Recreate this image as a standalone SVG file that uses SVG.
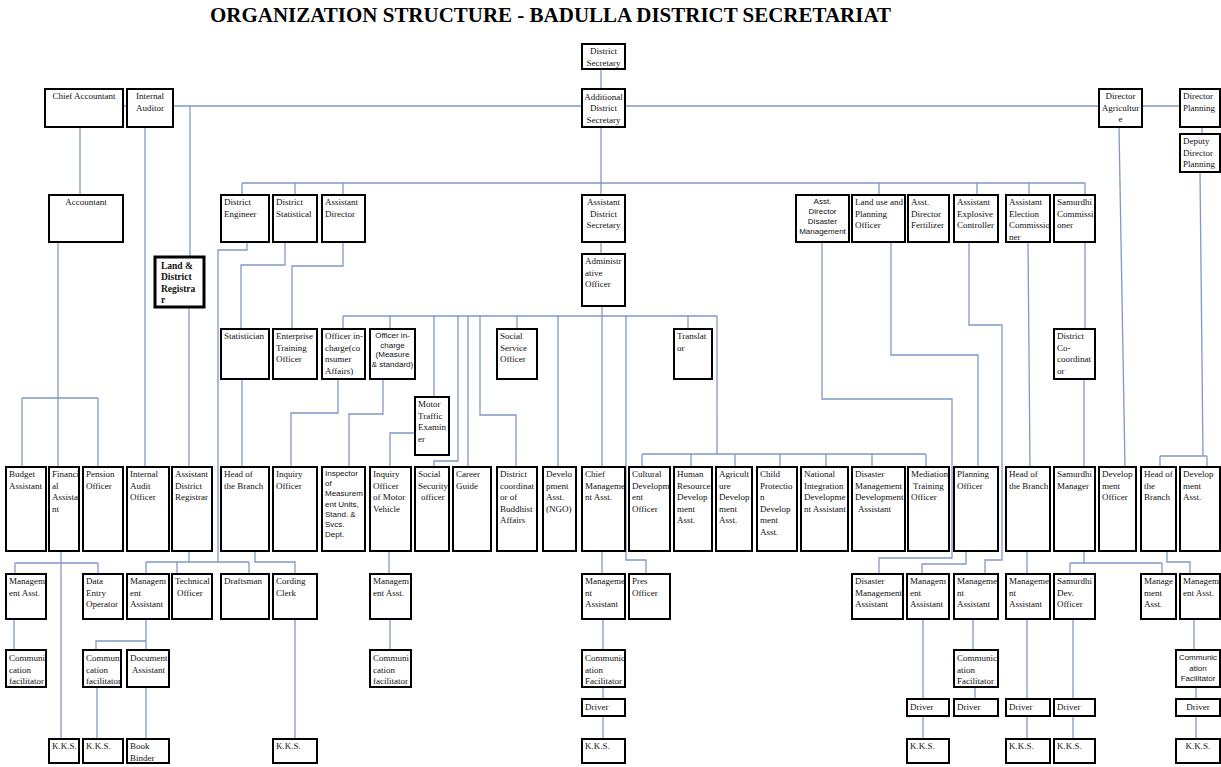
<svg xmlns="http://www.w3.org/2000/svg" width="1221" height="767" viewBox="0 0 1221 767">
<style>
.b{fill:#fff;stroke:#000;stroke-width:2}
.bb{fill:#fff;stroke:#000;stroke-width:3}
.t{font-family:"Liberation Serif","Times New Roman",serif;font-size:9px;fill:#111}
.s{font-family:"Liberation Sans",Arial,sans-serif;font-size:8px;fill:#111}
.m{text-anchor:middle}
.k{font-weight:bold;font-size:9.5px}
.title{font-family:"Liberation Serif","Times New Roman",serif;font-weight:bold;font-size:22px;fill:#000}
#links path{fill:none;stroke:#8099c8;stroke-width:1.3}
</style>
<rect width="1221" height="767" fill="#fff"/>
<text class="title" x="210" y="22" textLength="681" lengthAdjust="spacingAndGlyphs">ORGANIZATION STRUCTURE - BADULLA DISTRICT SECRETARIAT</text>
<g id="links">
<path d="M601,69V89"/>
<path d="M123,106H127M173,106H582M625,106H1099M1142,106H1180"/>
<path d="M190,106V257"/>
<path d="M80,127V195"/>
<path d="M145,127V467"/>
<path d="M58,242V467M22,398H98M22,398V467M98,398V467"/>
<path d="M61,551V739M15,563H98M15,563V574M98,563V574"/>
<path d="M189,307V467"/>
<path d="M189,551V562M146,562H249M146,562V574M177,562V574M249,562V574"/>
<path d="M247,242V250H218V562"/>
<path d="M285,242V265H241V329"/>
<path d="M242,379V467"/>
<path d="M255,551V562H295V574M295,619V739"/>
<path d="M343,242V266H292V329"/>
<path d="M242,183H1085M242,183V195M295,183V195M343,183V195M879,183V195M977,183V195M1029,183V195M1085,183V195M601,127V195"/>
<path d="M601,242V254"/>
<path d="M602,306V467M343,316H717M343,316V329M390,316V329M434,316V397M458,316V461H434V467M468,316V467M480,316V415H516V467M517,316V329M558,316V467M626,316V560H646V574M688,316V329M717,316V454M642,454H926M642,454V467M691,454V467M735,454V467M780,454V467M826,454V467M872,454V467M926,454V467"/>
<path d="M822,242V399H952V558H879V574"/>
<path d="M891,242V355H978V467"/>
<path d="M966,551V564H922V574"/>
<path d="M969,242V325H1002V560H985V574"/>
<path d="M973,619V650M975,687V699"/>
<path d="M1028,242L1030,467M1027,551V574M1027,619V699M1027,716V739"/>
<path d="M1085,242V329M1084,379V467M1084,551V563M1070,563H1162M1070,563V574M1162,563V574M1073,619V699M1073,716V739"/>
<path d="M1119,127L1125,467"/>
<path d="M1202,127V134M1200,172L1203,456M1160,456H1207M1160,456V467M1207,456V467"/>
<path d="M1167,551V562H1190V574M1194,619V650M1196,687V699M1196,716V739"/>
<path d="M338,379V413H291V467"/>
<path d="M383,379V414H349V467"/>
<path d="M415,433H390V467"/>
<path d="M389,551V574M390,619V650"/>
<path d="M14,619V650"/>
<path d="M146,619V641H96V650M146,641V650M97,687V739M146,687V739"/>
<path d="M602,551V574M603,619V650M603,687V699M603,716V739"/>
<path d="M923,619V699M923,716V739"/>
</g>
<g id="n-district-secretary"><rect class="b" x="582" y="44" width="43" height="25"/><text class="t m" y="54"><tspan x="603.5">District</tspan><tspan x="603.5" dy="11.5">Secretary</tspan></text></g>
<g id="n-chief-accountant"><rect class="b" x="45" y="89" width="78" height="38"/><text class="t m" x="84" y="99">Chief Accountant</text></g>
<g id="n-internal-auditor"><rect class="b" x="127" y="89" width="46" height="38"/><text class="t m" y="99"><tspan x="150">Internal</tspan><tspan x="150" dy="11.5">Auditor</tspan></text></g>
<g id="n-additional-ds"><rect class="b" x="582" y="89" width="43" height="38"/><text class="t m" y="99.5"><tspan x="603.5">Additional</tspan><tspan x="603.5" dy="11.5">District</tspan><tspan x="603.5" dy="11.5">Secretary</tspan></text></g>
<g id="n-director-agriculture"><rect class="b" x="1099" y="89" width="43" height="38"/><text class="t m" y="99"><tspan x="1120.5">Director</tspan><tspan x="1120.5" dy="11.5">Agricultur</tspan><tspan x="1120.5" dy="11.5">e</tspan></text></g>
<g id="n-director-planning"><rect class="b" x="1180" y="89" width="40" height="38"/><text class="t" y="99"><tspan x="1183">Director</tspan><tspan x="1183" dy="11.5">Planning</tspan></text></g>
<g id="n-deputy-director-planning"><rect class="b" x="1180" y="134" width="40" height="38"/><text class="t" y="144"><tspan x="1183">Deputy</tspan><tspan x="1183" dy="11.5">Director</tspan><tspan x="1183" dy="11.5">Planning</tspan></text></g>
<g id="n-accountant"><rect class="b" x="49" y="195" width="74" height="47"/><text class="t m" x="86" y="205">Accountant</text></g>
<g id="n-district-engineer"><rect class="b" x="221" y="195" width="48" height="47"/><text class="t" y="205"><tspan x="224">District</tspan><tspan x="224" dy="11.5">Engineer</tspan></text></g>
<g id="n-district-statistical"><rect class="b" x="273" y="195" width="44" height="47"/><text class="t" y="205"><tspan x="276">District</tspan><tspan x="276" dy="11.5">Statistical</tspan></text></g>
<g id="n-assistant-director"><rect class="b" x="322" y="195" width="43" height="47"/><text class="t" y="205"><tspan x="325">Assistant</tspan><tspan x="325" dy="11.5">Director</tspan></text></g>
<g id="n-assistant-ds"><rect class="b" x="582" y="195" width="43" height="47"/><text class="t m" y="205"><tspan x="603.5">Assistant</tspan><tspan x="603.5" dy="11.5">District</tspan><tspan x="603.5" dy="11.5">Secretary</tspan></text></g>
<g id="n-asst-director-dm"><rect class="b" x="796" y="195" width="53" height="47"/><text class="s m" y="204"><tspan x="822.5">Asst.</tspan><tspan x="822.5" dy="10">Director</tspan><tspan x="822.5" dy="10">Disaster</tspan><tspan x="822.5" dy="10">Management</tspan></text></g>
<g id="n-land-use-planning"><rect class="b" x="852" y="195" width="53" height="47"/><text class="t" y="205"><tspan x="855">Land use and</tspan><tspan x="855" dy="11.5">Planning</tspan><tspan x="855" dy="11.5">Officer</tspan></text></g>
<g id="n-asst-director-fertilizer"><rect class="b" x="908" y="195" width="41" height="47"/><text class="t" y="205"><tspan x="911">Asst.</tspan><tspan x="911" dy="11.5">Director</tspan><tspan x="911" dy="11.5">Fertilizer</tspan></text></g>
<g id="n-asst-explosive-controller"><rect class="b" x="954" y="195" width="44" height="47"/><text class="t" y="205"><tspan x="957">Assistant</tspan><tspan x="957" dy="11.5">Explosive</tspan><tspan x="957" dy="11.5">Controller</tspan></text></g>
<g id="n-asst-election-commissioner"><rect class="b" x="1006" y="195" width="44" height="47"/><text class="t" y="205"><tspan x="1009">Assistant</tspan><tspan x="1009" dy="11.5">Election</tspan><tspan x="1009" dy="11.5">Commissio</tspan><tspan x="1009" dy="11.5">ner</tspan></text></g>
<g id="n-samurdhi-commissioner"><rect class="b" x="1054" y="195" width="41" height="47"/><text class="t" y="205"><tspan x="1057">Samurdhi</tspan><tspan x="1057" dy="11.5">Commissi</tspan><tspan x="1057" dy="11.5">oner</tspan></text></g>
<g id="n-land-district-registrar"><rect class="bb" x="155" y="257" width="49" height="50"/><text class="t k" y="269"><tspan x="161">Land &amp;</tspan><tspan x="161" dy="11.3">District</tspan><tspan x="161" dy="11.3">Registra</tspan><tspan x="161" dy="11.3">r</tspan></text></g>
<g id="n-administrative-officer"><rect class="b" x="582" y="254" width="43" height="52"/><text class="t" y="264"><tspan x="585">Administr</tspan><tspan x="585" dy="11.5">ative</tspan><tspan x="585" dy="11.5">Officer</tspan></text></g>
<g id="n-statistician"><rect class="b" x="221" y="329" width="48" height="50"/><text class="t" x="224" y="339">Statistician</text></g>
<g id="n-enterprise-training-officer"><rect class="b" x="273" y="329" width="44" height="50"/><text class="t" y="339"><tspan x="276">Enterprise</tspan><tspan x="276" dy="11.5">Training</tspan><tspan x="276" dy="11.5">Officer</tspan></text></g>
<g id="n-oic-consumer"><rect class="b" x="322" y="329" width="43" height="50"/><text class="t" y="339"><tspan x="325">Officer in-</tspan><tspan x="325" dy="11.5">charge(co</tspan><tspan x="325" dy="11.5">nsumer</tspan><tspan x="325" dy="11.5">Affairs)</tspan></text></g>
<g id="n-oic-measure"><rect class="b" x="370" y="329" width="45" height="50"/><text class="s m" y="338"><tspan x="392.5">Officer in-</tspan><tspan x="392.5" dy="9.6">charge</tspan><tspan x="392.5" dy="9.6">(Measure</tspan><tspan x="392.5" dy="9.6">&amp; standard)</tspan></text></g>
<g id="n-social-service-officer"><rect class="b" x="497" y="329" width="40" height="50"/><text class="t" y="339"><tspan x="500">Social</tspan><tspan x="500" dy="11.5">Service</tspan><tspan x="500" dy="11.5">Officer</tspan></text></g>
<g id="n-translator"><rect class="b" x="674" y="329" width="38" height="50"/><text class="t" y="339"><tspan x="677">Translat</tspan><tspan x="677" dy="11.5">or</tspan></text></g>
<g id="n-district-cocoordinator"><rect class="b" x="1054" y="329" width="41" height="50"/><text class="t" y="339"><tspan x="1057">District</tspan><tspan x="1057" dy="11.5">Co-</tspan><tspan x="1057" dy="11.5">coordinat</tspan><tspan x="1057" dy="11.5">or</tspan></text></g>
<g id="n-motor-traffic-examiner"><rect class="b" x="415" y="397" width="34" height="58"/><text class="t" y="407"><tspan x="418">Motor</tspan><tspan x="418" dy="11.5">Traffic</tspan><tspan x="418" dy="11.5">Examin</tspan><tspan x="418" dy="11.5">er</tspan></text></g>
<g id="n-budget-assistant"><rect class="b" x="6" y="467" width="40" height="84"/><text class="t" y="477"><tspan x="9">Budget</tspan><tspan x="9" dy="11.5">Assistant</tspan></text></g>
<g id="n-financial-assistant"><rect class="b" x="49" y="467" width="30" height="84"/><text class="t" y="477"><tspan x="52">Financi</tspan><tspan x="52" dy="11.5">al</tspan><tspan x="52" dy="11.5">Assista</tspan><tspan x="52" dy="11.5">nt</tspan></text></g>
<g id="n-pension-officer"><rect class="b" x="83" y="467" width="40" height="84"/><text class="t" y="477"><tspan x="86">Pension</tspan><tspan x="86" dy="11.5">Officer</tspan></text></g>
<g id="n-internal-audit-officer"><rect class="b" x="127" y="467" width="42" height="84"/><text class="t" y="477"><tspan x="130">Internal</tspan><tspan x="130" dy="11.5">Audit</tspan><tspan x="130" dy="11.5">Officer</tspan></text></g>
<g id="n-asst-district-registrar"><rect class="b" x="172" y="467" width="40" height="84"/><text class="t" y="477"><tspan x="175">Assistant</tspan><tspan x="175" dy="11.5">District</tspan><tspan x="175" dy="11.5">Registrar</tspan></text></g>
<g id="n-head-branch-1"><rect class="b" x="221" y="467" width="48" height="84"/><text class="t" y="477"><tspan x="224">Head of</tspan><tspan x="224" dy="11.5">the Branch</tspan></text></g>
<g id="n-inquiry-officer"><rect class="b" x="273" y="467" width="44" height="84"/><text class="t" y="477"><tspan x="276">Inquiry</tspan><tspan x="276" dy="11.5">Officer</tspan></text></g>
<g id="n-inspector"><rect class="b" x="322" y="467" width="43" height="84"/><text class="s" y="476"><tspan x="325">Inspector</tspan><tspan x="325" dy="10.2">of</tspan><tspan x="325" dy="10.2">Measurem</tspan><tspan x="325" dy="10.2">ent Units,</tspan><tspan x="325" dy="10.2">Stand. &amp;</tspan><tspan x="325" dy="10.2">Svcs.</tspan><tspan x="325" dy="10.2">Dept.</tspan></text></g>
<g id="n-inquiry-motor-vehicle"><rect class="b" x="370" y="467" width="41" height="84"/><text class="t" y="477"><tspan x="373">Inquiry</tspan><tspan x="373" dy="11.5">Officer</tspan><tspan x="373" dy="11.5">of Motor</tspan><tspan x="373" dy="11.5">Vehicle</tspan></text></g>
<g id="n-social-security-officer"><rect class="b" x="415" y="467" width="34" height="84"/><text class="t" y="477"><tspan x="418">Social</tspan><tspan x="418" dy="11.5">Security</tspan><tspan x="421" dy="11.5">officer</tspan></text></g>
<g id="n-career-guide"><rect class="b" x="453" y="467" width="38" height="84"/><text class="t" y="477"><tspan x="456">Career</tspan><tspan x="456" dy="11.5">Guide</tspan></text></g>
<g id="n-buddhist-affairs"><rect class="b" x="497" y="467" width="40" height="84"/><text class="t" y="477"><tspan x="500">District</tspan><tspan x="500" dy="11.5">coordinat</tspan><tspan x="500" dy="11.5">or of</tspan><tspan x="500" dy="11.5">Buddhist</tspan><tspan x="500" dy="11.5">Affairs</tspan></text></g>
<g id="n-dev-asst-ngo"><rect class="b" x="543" y="467" width="33" height="84"/><text class="t" y="477"><tspan x="546">Develo</tspan><tspan x="546" dy="11.5">pment</tspan><tspan x="546" dy="11.5">Asst.</tspan><tspan x="546" dy="11.5">(NGO)</tspan></text></g>
<g id="n-chief-mgmt-asst"><rect class="b" x="582" y="467" width="43" height="84"/><text class="t" y="477"><tspan x="585">Chief</tspan><tspan x="585" dy="11.5">Manageme</tspan><tspan x="585" dy="11.5">nt Asst.</tspan></text></g>
<g id="n-cultural-dev-officer"><rect class="b" x="629" y="467" width="41" height="84"/><text class="t" y="477"><tspan x="632">Cultural</tspan><tspan x="632" dy="11.5">Developm</tspan><tspan x="632" dy="11.5">ent</tspan><tspan x="632" dy="11.5">Officer</tspan></text></g>
<g id="n-hr-dev-asst"><rect class="b" x="674" y="467" width="38" height="84"/><text class="t" y="477"><tspan x="677">Human</tspan><tspan x="677" dy="11.5">Resource</tspan><tspan x="677" dy="11.5">Develop</tspan><tspan x="677" dy="11.5">ment</tspan><tspan x="677" dy="11.5">Asst.</tspan></text></g>
<g id="n-agri-dev-asst"><rect class="b" x="716" y="467" width="36" height="84"/><text class="t" y="477"><tspan x="719">Agricult</tspan><tspan x="719" dy="11.5">ure</tspan><tspan x="719" dy="11.5">Develop</tspan><tspan x="719" dy="11.5">ment</tspan><tspan x="719" dy="11.5">Asst.</tspan></text></g>
<g id="n-child-protection"><rect class="b" x="757" y="467" width="40" height="84"/><text class="t" y="477"><tspan x="760">Child</tspan><tspan x="760" dy="11.5">Protectio</tspan><tspan x="760" dy="11.5">n</tspan><tspan x="760" dy="11.5">Develop</tspan><tspan x="760" dy="11.5">ment</tspan><tspan x="760" dy="11.5">Asst.</tspan></text></g>
<g id="n-national-integration"><rect class="b" x="801" y="467" width="47" height="84"/><text class="t" y="477"><tspan x="804">National</tspan><tspan x="804" dy="11.5">Integration</tspan><tspan x="804" dy="11.5">Developme</tspan><tspan x="804" dy="11.5">nt Assistant</tspan></text></g>
<g id="n-dm-dev-asst"><rect class="b" x="852" y="467" width="53" height="84"/><text class="t" y="477"><tspan x="855">Disaster</tspan><tspan x="855" dy="11.5">Management</tspan><tspan x="855" dy="11.5">Development</tspan><tspan x="858" dy="11.5">Assistant</tspan></text></g>
<g id="n-mediation-training"><rect class="b" x="908" y="467" width="41" height="84"/><text class="t" y="477"><tspan x="911">Mediation</tspan><tspan x="913" dy="11.5">Training</tspan><tspan x="911" dy="11.5">Officer</tspan></text></g>
<g id="n-planning-officer"><rect class="b" x="954" y="467" width="44" height="84"/><text class="t" y="477"><tspan x="957">Planning</tspan><tspan x="957" dy="11.5">Officer</tspan></text></g>
<g id="n-head-branch-2"><rect class="b" x="1006" y="467" width="44" height="84"/><text class="t" y="477"><tspan x="1009">Head of</tspan><tspan x="1009" dy="11.5">the Branch</tspan></text></g>
<g id="n-samurdhi-manager"><rect class="b" x="1054" y="467" width="41" height="84"/><text class="t" y="477"><tspan x="1057">Samurdhi</tspan><tspan x="1057" dy="11.5">Manager</tspan></text></g>
<g id="n-development-officer"><rect class="b" x="1099" y="467" width="37" height="84"/><text class="t" y="477"><tspan x="1102">Develop</tspan><tspan x="1102" dy="11.5">ment</tspan><tspan x="1102" dy="11.5">Officer</tspan></text></g>
<g id="n-head-branch-3"><rect class="b" x="1141" y="467" width="35" height="84"/><text class="t" y="477"><tspan x="1144">Head of</tspan><tspan x="1144" dy="11.5">the</tspan><tspan x="1144" dy="11.5">Branch</tspan></text></g>
<g id="n-development-asst"><rect class="b" x="1180" y="467" width="40" height="84"/><text class="t" y="477"><tspan x="1183">Develop</tspan><tspan x="1183" dy="11.5">ment</tspan><tspan x="1183" dy="11.5">Asst.</tspan></text></g>
<g id="n-mgmt-asst-1"><rect class="b" x="6" y="574" width="40" height="45"/><text class="t" y="584"><tspan x="9">Managem</tspan><tspan x="9" dy="11.5">ent Asst.</tspan></text></g>
<g id="n-data-entry-operator"><rect class="b" x="83" y="574" width="40" height="45"/><text class="t" y="584"><tspan x="86">Data</tspan><tspan x="86" dy="11.5">Entry</tspan><tspan x="86" dy="11.5">Operator</tspan></text></g>
<g id="n-mgmt-asst-2"><rect class="b" x="127" y="574" width="42" height="45"/><text class="t" y="584"><tspan x="130">Managem</tspan><tspan x="130" dy="11.5">ent</tspan><tspan x="130" dy="11.5">Assistant</tspan></text></g>
<g id="n-technical-officer"><rect class="b" x="172" y="574" width="40" height="45"/><text class="t" y="584"><tspan x="175">Technical</tspan><tspan x="177" dy="11.5">Officer</tspan></text></g>
<g id="n-draftsman"><rect class="b" x="221" y="574" width="48" height="45"/><text class="t" x="224" y="584">Draftsman</text></g>
<g id="n-cording-clerk"><rect class="b" x="273" y="574" width="44" height="45"/><text class="t" y="584"><tspan x="276">Cording</tspan><tspan x="276" dy="11.5">Clerk</tspan></text></g>
<g id="n-mgmt-asst-3"><rect class="b" x="370" y="574" width="41" height="45"/><text class="t" y="584"><tspan x="373">Managem</tspan><tspan x="373" dy="11.5">ent Asst.</tspan></text></g>
<g id="n-mgmt-asst-4"><rect class="b" x="582" y="574" width="43" height="45"/><text class="t" y="584"><tspan x="585">Manageme</tspan><tspan x="585" dy="11.5">nt</tspan><tspan x="585" dy="11.5">Assistant</tspan></text></g>
<g id="n-pres-officer"><rect class="b" x="629" y="574" width="41" height="45"/><text class="t" y="584"><tspan x="632">Pres</tspan><tspan x="632" dy="11.5">Officer</tspan></text></g>
<g id="n-dm-assistant"><rect class="b" x="852" y="574" width="51" height="45"/><text class="t" y="584"><tspan x="855">Disaster</tspan><tspan x="855" dy="11.5">Management</tspan><tspan x="855" dy="11.5">Assistant</tspan></text></g>
<g id="n-mgmt-asst-5"><rect class="b" x="907" y="574" width="42" height="45"/><text class="t" y="584"><tspan x="910">Managem</tspan><tspan x="910" dy="11.5">ent</tspan><tspan x="910" dy="11.5">Assistant</tspan></text></g>
<g id="n-mgmt-asst-6"><rect class="b" x="954" y="574" width="44" height="45"/><text class="t" y="584"><tspan x="957">Manageme</tspan><tspan x="957" dy="11.5">nt</tspan><tspan x="957" dy="11.5">Assistant</tspan></text></g>
<g id="n-mgmt-asst-7"><rect class="b" x="1006" y="574" width="44" height="45"/><text class="t" y="584"><tspan x="1009">Manageme</tspan><tspan x="1009" dy="11.5">nt</tspan><tspan x="1009" dy="11.5">Assistant</tspan></text></g>
<g id="n-samurdhi-dev-officer"><rect class="b" x="1054" y="574" width="41" height="45"/><text class="t" y="584"><tspan x="1057">Samurdhi</tspan><tspan x="1057" dy="11.5">Dev.</tspan><tspan x="1057" dy="11.5">Officer</tspan></text></g>
<g id="n-mgmt-asst-8"><rect class="b" x="1141" y="574" width="35" height="45"/><text class="t" y="584"><tspan x="1144">Manage</tspan><tspan x="1144" dy="11.5">ment</tspan><tspan x="1144" dy="11.5">Asst.</tspan></text></g>
<g id="n-mgmt-asst-9"><rect class="b" x="1180" y="574" width="40" height="45"/><text class="t" y="584"><tspan x="1183">Managem</tspan><tspan x="1183" dy="11.5">ent Asst.</tspan></text></g>
<g id="n-comm-fac-1"><rect class="b" x="6" y="650" width="40" height="37"/><text class="t" y="661"><tspan x="9">Communi</tspan><tspan x="9" dy="11.5">cation</tspan><tspan x="9" dy="11.5">facilitator</tspan></text></g>
<g id="n-comm-fac-2"><rect class="b" x="83" y="650" width="38" height="37"/><text class="t" y="661"><tspan x="86">Communi</tspan><tspan x="86" dy="11.5">cation</tspan><tspan x="86" dy="11.5">facilitator</tspan></text></g>
<g id="n-document-assistant"><rect class="b" x="127" y="650" width="42" height="37"/><text class="t" y="661"><tspan x="130">Document</tspan><tspan x="132" dy="11.5">Assistant</tspan></text></g>
<g id="n-comm-fac-3"><rect class="b" x="370" y="650" width="41" height="37"/><text class="t" y="661"><tspan x="373">Communi</tspan><tspan x="373" dy="11.5">cation</tspan><tspan x="373" dy="11.5">facilitator</tspan></text></g>
<g id="n-comm-fac-4"><rect class="b" x="582" y="650" width="43" height="37"/><text class="t" y="661"><tspan x="585">Communic</tspan><tspan x="585" dy="11.5">ation</tspan><tspan x="585" dy="11.5">Facilitator</tspan></text></g>
<g id="n-comm-fac-5"><rect class="b" x="954" y="650" width="44" height="37"/><text class="t" y="661"><tspan x="957">Communic</tspan><tspan x="957" dy="11.5">ation</tspan><tspan x="957" dy="11.5">Facilitator</tspan></text></g>
<g id="n-comm-fac-6"><rect class="b" x="1176" y="650" width="44" height="37"/><text class="s m" y="660"><tspan x="1198">Communic</tspan><tspan x="1198" dy="10.5">ation</tspan><tspan x="1198" dy="10.5">Facilitator</tspan></text></g>
<g id="n-driver-1"><rect class="b" x="582" y="699" width="43" height="17"/><text class="t" x="585" y="710">Driver</text></g>
<g id="n-driver-2"><rect class="b" x="907" y="699" width="42" height="17"/><text class="t" x="910" y="710">Driver</text></g>
<g id="n-driver-3"><rect class="b" x="954" y="699" width="44" height="17"/><text class="t" x="957" y="710">Driver</text></g>
<g id="n-driver-4"><rect class="b" x="1006" y="699" width="44" height="17"/><text class="t" x="1009" y="710">Driver</text></g>
<g id="n-driver-5"><rect class="b" x="1054" y="699" width="41" height="17"/><text class="t" x="1057" y="710">Driver</text></g>
<g id="n-driver-6"><rect class="b" x="1176" y="699" width="44" height="17"/><text class="t m" x="1198" y="710">Driver</text></g>
<g id="n-kks-1"><rect class="b" x="49" y="739" width="30" height="24"/><text class="t" x="52" y="749">K.K.S.</text></g>
<g id="n-kks-2"><rect class="b" x="83" y="739" width="40" height="24"/><text class="t" x="86" y="749">K.K.S.</text></g>
<g id="n-book-binder"><rect class="b" x="127" y="739" width="42" height="24"/><text class="t" y="749"><tspan x="130">Book</tspan><tspan x="130" dy="11.5">Binder</tspan></text></g>
<g id="n-kks-3"><rect class="b" x="273" y="739" width="44" height="24"/><text class="t" x="276" y="749">K.K.S.</text></g>
<g id="n-kks-4"><rect class="b" x="582" y="739" width="43" height="24"/><text class="t" x="585" y="749">K.K.S.</text></g>
<g id="n-kks-5"><rect class="b" x="907" y="739" width="42" height="24"/><text class="t" x="910" y="749">K.K.S.</text></g>
<g id="n-kks-6"><rect class="b" x="1006" y="739" width="44" height="24"/><text class="t" x="1009" y="749">K.K.S.</text></g>
<g id="n-kks-7"><rect class="b" x="1054" y="739" width="41" height="24"/><text class="t" x="1057" y="749">K.K.S.</text></g>
<g id="n-kks-8"><rect class="b" x="1176" y="739" width="44" height="24"/><text class="t m" x="1198" y="749">K.K.S.</text></g>
</svg>
